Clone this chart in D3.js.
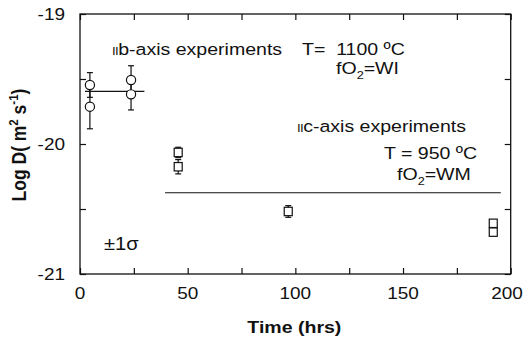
<!DOCTYPE html>
<html>
<head>
<meta charset="utf-8">
<script src="https://cdn.jsdelivr.net/npm/d3@7"></script>
<style>
  body { margin: 0; background: #fff; }
  svg { font-family: "Liberation Sans", Arial, sans-serif; }
</style>
</head>
<body>
<div id="chart"></div>
<script>
// b-axis experiments (1100 C, WI), circles
const bTime = [4.6, 4.6, 23.7, 23.7];
const bLogD = [-19.546, -19.713, -19.508, -19.618];
const bErr = [0.095, 0.17, 0.11, 0.12];
const bMean = -19.595;
const bRange = [2.3, 29.9];

// c-axis experiments (950 C, WM), squares
const cTime = [45.6, 45.6, 96.7, 191.9, 191.9];
const cLogD = [-20.065, -20.175, -20.519, -20.61, -20.678];
const cErr = [0.04, 0.055, 0.045, 0, 0];
const cMean = -20.375;
const cRange = [39.5, 195.4];

const xMajor = [0, 50, 100, 150, 200];
const xMinor = [25, 75, 125, 175];
const yMajor = [-21, -20, -19];
const yMinor = [-20.5, -19.5];

const width = 523, height = 344;
const margin = {left: 80, right: 12.3, top: 14, bottom: 70};
const sx = 1.15; // glyphs in the source are a little wide

const svg = d3.select("#chart").append("svg")
    .attr("width", width)
    .attr("height", height);

const x = d3.scaleLinear().domain([0, 200]).range([margin.left, width - margin.right]);
const y = d3.scaleLinear().domain([-21, -19]).range([height - margin.bottom, margin.top]);

const ink = "#111";

// frame
svg.append("rect")
    .attr("x", x(0)).attr("y", y(-19))
    .attr("width", x(200) - x(0)).attr("height", y(-21) - y(-19))
    .attr("fill", "none").attr("stroke", ink).attr("stroke-width", 1.3);

function styleAxis(g) {
    g.select(".domain").remove();
    g.selectAll("line").attr("stroke", ink).attr("stroke-width", 1.2);
}

svg.append("g")
    .attr("transform", `translate(0,${y(-21)})`)
    .call(d3.axisBottom(x).tickValues(xMajor.concat(xMinor)).tickSize(-6).tickFormat(""))
    .call(styleAxis);
svg.append("g")
    .attr("transform", `translate(0,${y(-19)})`)
    .call(d3.axisTop(x).tickValues(xMajor.concat(xMinor)).tickSize(-6).tickFormat(""))
    .call(styleAxis);
svg.append("g")
    .attr("transform", `translate(${x(0)},0)`)
    .call(d3.axisLeft(y).tickValues(yMajor.concat(yMinor)).tickSize(-6).tickFormat(""))
    .call(styleAxis);
svg.append("g")
    .attr("transform", `translate(${x(200)},0)`)
    .call(d3.axisRight(y).tickValues(yMajor.concat(yMinor)).tickSize(-6).tickFormat(""))
    .call(styleAxis);

// tick labels (last one nudged so it stays inside the page)
svg.append("g").selectAll("text")
    .data(xMajor).join("text")
    .attr("transform", d => `translate(${Math.min(x(d), width - 16)},${y(-21) + 25}) scale(${sx},1)`)
    .attr("text-anchor", "middle")
    .style("font-size", "16.5px").attr("fill", ink)
    .text(d => String(d));
svg.append("g").selectAll("text")
    .data(yMajor).join("text")
    .attr("transform", d => `translate(${x(0) - 15},${y(d) + 6}) scale(${sx},1)`)
    .attr("text-anchor", "end")
    .style("font-size", "16.5px").attr("fill", ink)
    .text(d => String(d));

// axis titles
svg.append("text")
    .attr("transform", `translate(${(x(0) + x(200)) / 2 - 1},333) scale(${sx},1)`)
    .attr("text-anchor", "middle")
    .attr("font-weight", "bold").style("font-size", "17px").attr("fill", ink)
    .text("Time (hrs)");

const yt = svg.append("text")
    .attr("transform", `translate(26,${y(-20) + 1}) rotate(-90) scale(1,${sx})`)
    .attr("text-anchor", "middle")
    .attr("font-weight", "bold").style("font-size", "17.5px").attr("fill", ink);
yt.append("tspan").text("Log D( m");
yt.append("tspan").attr("dy", -7).style("font-size", "11.5px").text("2");
yt.append("tspan").attr("dy", 7).text(" s");
yt.append("tspan").attr("dy", -7).style("font-size", "11.5px").text("-1");
yt.append("tspan").attr("dy", 7).text(")");

// mean lines
svg.append("line")
    .attr("x1", x(bRange[0])).attr("x2", x(bRange[1]))
    .attr("y1", y(bMean)).attr("y2", y(bMean))
    .attr("stroke", ink).attr("stroke-width", 1.2);
svg.append("line")
    .attr("x1", x(cRange[0])).attr("x2", x(cRange[1]))
    .attr("y1", y(cMean)).attr("y2", y(cMean))
    .attr("stroke", ink).attr("stroke-width", 1.2);

// error bars
const bData = bTime.map((t, i) => ({t: t, v: bLogD[i], e: bErr[i]}));
const cData = cTime.map((t, i) => ({t: t, v: cLogD[i], e: cErr[i]}));

function errorBars(data) {
    const g = svg.append("g").attr("stroke", ink).attr("stroke-width", 1.2);
    data.filter(d => d.e > 0).forEach(d => {
        g.append("line").attr("x1", x(d.t)).attr("x2", x(d.t))
            .attr("y1", y(d.v - d.e)).attr("y2", y(d.v + d.e));
        [d.v - d.e, d.v + d.e].forEach(v => {
            g.append("line").attr("x1", x(d.t) - 3).attr("x2", x(d.t) + 3)
                .attr("y1", y(v)).attr("y2", y(v));
        });
    });
}
errorBars(bData);
errorBars(cData);

svg.append("g").selectAll("circle")
    .data(bData).join("circle")
    .attr("cx", d => x(d.t)).attr("cy", d => y(d.v)).attr("r", 4.6)
    .attr("fill", "#fff").attr("stroke", ink).attr("stroke-width", 1.2);

svg.append("g").selectAll("rect")
    .data(cData).join("rect")
    .attr("x", d => x(d.t) - 4).attr("y", d => y(d.v) - 4.2)
    .attr("width", 8).attr("height", 8.4)
    .attr("fill", "#fff").attr("stroke", ink).attr("stroke-width", 1.2);

// annotations
function label(xp, yp, parts) {
    const t = svg.append("text")
        .attr("transform", `translate(${xp},${yp}) scale(${sx},1)`)
        .style("font-size", "17px").attr("fill", ink);
    parts.forEach(p => {
        const s = t.append("tspan").text(p.s);
        if (p.size) s.style("font-size", p.size);
        if (p.dy) s.attr("dy", p.dy);
        if (p.ls) s.attr("letter-spacing", p.ls);
    });
}
label(112, 55, [{s: "II", size: "11.5px", ls: "-0.5px"}, {s: "b-axis experiments"}]);
label(302, 55, [{s: "T=\u00a0 1100 \u00baC"}]);
label(336, 74, [{s: "fO"}, {s: "2", size: "11px", dy: 5}, {s: "=WI", dy: -5}]);
label(297, 132, [{s: "II", size: "11.5px", ls: "-0.5px"}, {s: "c-axis experiments"}]);
label(384, 159, [{s: "T = 950 \u00baC"}]);
label(397, 180, [{s: "fO"}, {s: "2", size: "11px", dy: 5}, {s: "=WM", dy: -5}]);
label(104, 250, [{s: "\u00b11\u03c3", size: "17.5px"}]);
</script>
</body>
</html>
